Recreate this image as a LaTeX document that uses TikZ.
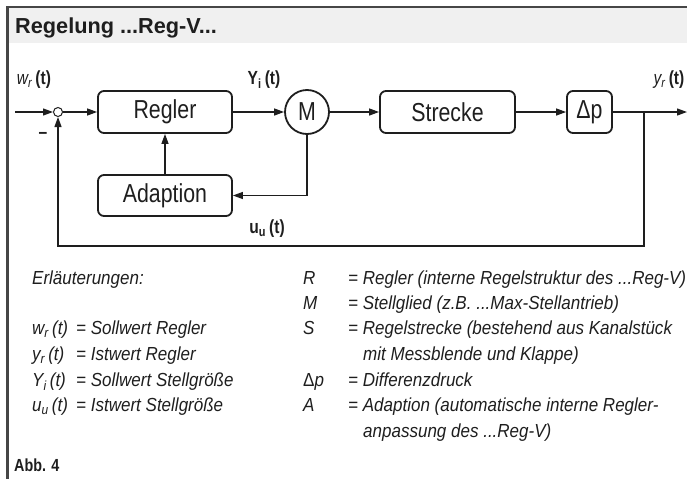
\documentclass[tikz,border=0pt]{standalone}
\usepackage{fontspec}
\usetikzlibrary{arrows.meta}
\setmainfont{Liberation Sans}
\newfontfamily\narrowfont[FakeStretch=0.82]{Liberation Sans}
\newfontfamily\legendfont[FakeStretch=0.9]{Liberation Sans}
\definecolor{bandgray}{RGB}{240,240,240}
\definecolor{framegray}{RGB}{70,70,70}
\definecolor{ink}{RGB}{30,30,30}

\begin{document}
\begin{tikzpicture}[x=1pt,y=-1pt,color=ink,
    blk/.style={draw,rounded corners=6pt,line width=1.8pt,minimum width=134pt,minimum height=42pt,inner sep=0pt,font=\narrowfont\fontsize{26}{26}\selectfont},
    mot/.style={draw,circle,line width=1.8pt,minimum size=44pt,inner sep=0pt,font=\narrowfont\fontsize{26}{26}\selectfont},
    sum/.style={draw,circle,line width=1pt,minimum size=9pt,inner sep=0pt},
    arr/.style={line width=1.2pt,-{Triangle[length=10pt,width=7pt]}},
    lbl/.style={inner sep=0pt,font=\narrowfont\fontsize{19}{19}\selectfont},
    txt/.style={anchor=west,inner sep=0pt,text height=13pt,text depth=4pt,font=\legendfont\itshape\fontsize{18.9}{18.9}\selectfont}]

  \useasboundingbox (0,0) rectangle (687,479);

  % frame and title
  \fill[bandgray] (8,8) rectangle (687,43);
  \draw[framegray,line width=2.5pt] (687,7) -- (7.5,7) -- (7.5,479);
  \node[anchor=base west,inner sep=0pt,font=\bfseries\fontsize{21.7}{21.7}\selectfont] (title) at (15,33) {Regelung ...Reg-V...};

  % loop
  \coordinate (in) at (15,112);
  \node[sum] (sum) at (58,112) {};
  \node[blk] (regler) at (165,112) {Regler};
  \node[mot] (m) at (307,112) {M};
  \node[blk,minimum width=135pt] (strecke) at (447.5,112) {Strecke};
  \node[blk,minimum width=45pt] (dp) at (589.5,112) {Δp};
  \node[blk,minimum height=41pt] (adapt) at (165,195.5) {Adaption};
  \coordinate (out) at (687,112);
  \coordinate (fb) at (644,112);
  \coordinate (fbr) at (644,246);
  \coordinate (fbl) at (58,246);

  \draw[arr] (in) -- (sum);
  \draw[arr] (sum) -- (regler);
  \draw[arr] (regler) -- (m);
  \draw[arr] (m) -- (strecke);
  \draw[arr] (strecke) -- (dp);
  \draw[arr] (dp) -- (out);
  \draw[arr] (adapt) -- (regler);
  \draw[arr] (m) |- (adapt);
  \draw[arr] (fb) -- (fbr) -- (fbl) -- (sum);

  \node[lbl] (wr) at (34,80) {\textit{w\textsubscript{r}}\,\textbf{(t)}};
  \node[lbl] (yi) at (264,80) {\textbf{Y\textsubscript{i}\,(t)}};
  \node[lbl] (yr) at (669,80) {\textit{y\textsubscript{r}}\,\textbf{(t)}};
  \node[lbl] (uu) at (267,229) {\textbf{u\textsubscript{u}\,(t)}};
  \node[lbl] (minus) at (43,135) {\textbf{–}};

  % legend
  \node[txt] (erl) at (32,280) {Erläuterungen:};
  \node[txt] (symw) at (32,330) {w\textsubscript{r}\,(t)};
  \node[txt] (symy) at (32,356) {y\textsubscript{r}\,(t)};
  \node[txt] (symY) at (32,382) {Y\textsubscript{i}\,(t)};
  \node[txt] (symu) at (32,407) {u\textsubscript{u}\,(t)};
  \node[txt] (txtw) at (76,330) {= Sollwert Regler};
  \node[txt] (txty) at (76,356) {= Istwert Regler};
  \node[txt] (txtY) at (76,382) {= Sollwert Stellgröße};
  \node[txt] (txtu) at (76,407) {= Istwert Stellgröße};

  \node[txt] (symR) at (303,280) {R};
  \node[txt] (symM) at (303,305) {M};
  \node[txt] (symS) at (303,330) {S};
  \node[txt] (symD) at (303,382) {{\upshape Δ}p};
  \node[txt] (symA) at (303,407) {A};
  \node[txt] (txtR) at (348,280) {= Regler (interne Regelstruktur des ...Reg-V)};
  \node[txt] (txtM) at (348,305) {= Stellglied (z.B. ...Max-Stellantrieb)};
  \node[txt] (txtS) at (348,330) {= Regelstrecke (bestehend aus Kanalstück};
  \node[txt] (txtS2) at (363,356) {mit Messblende und Klappe)};
  \node[txt] (txtD) at (348,382) {= Differenzdruck};
  \node[txt] (txtA) at (348,407) {= Adaption (automatische interne Regler-};
  \node[txt] (txtA2) at (363,433) {anpassung des ...Reg-V)};

  \node[anchor=base west,inner sep=0pt,font=\narrowfont\bfseries\fontsize{17.5}{17.5}\selectfont] (abb) at (14,471) {Abb. 4};
\end{tikzpicture}
\end{document}
